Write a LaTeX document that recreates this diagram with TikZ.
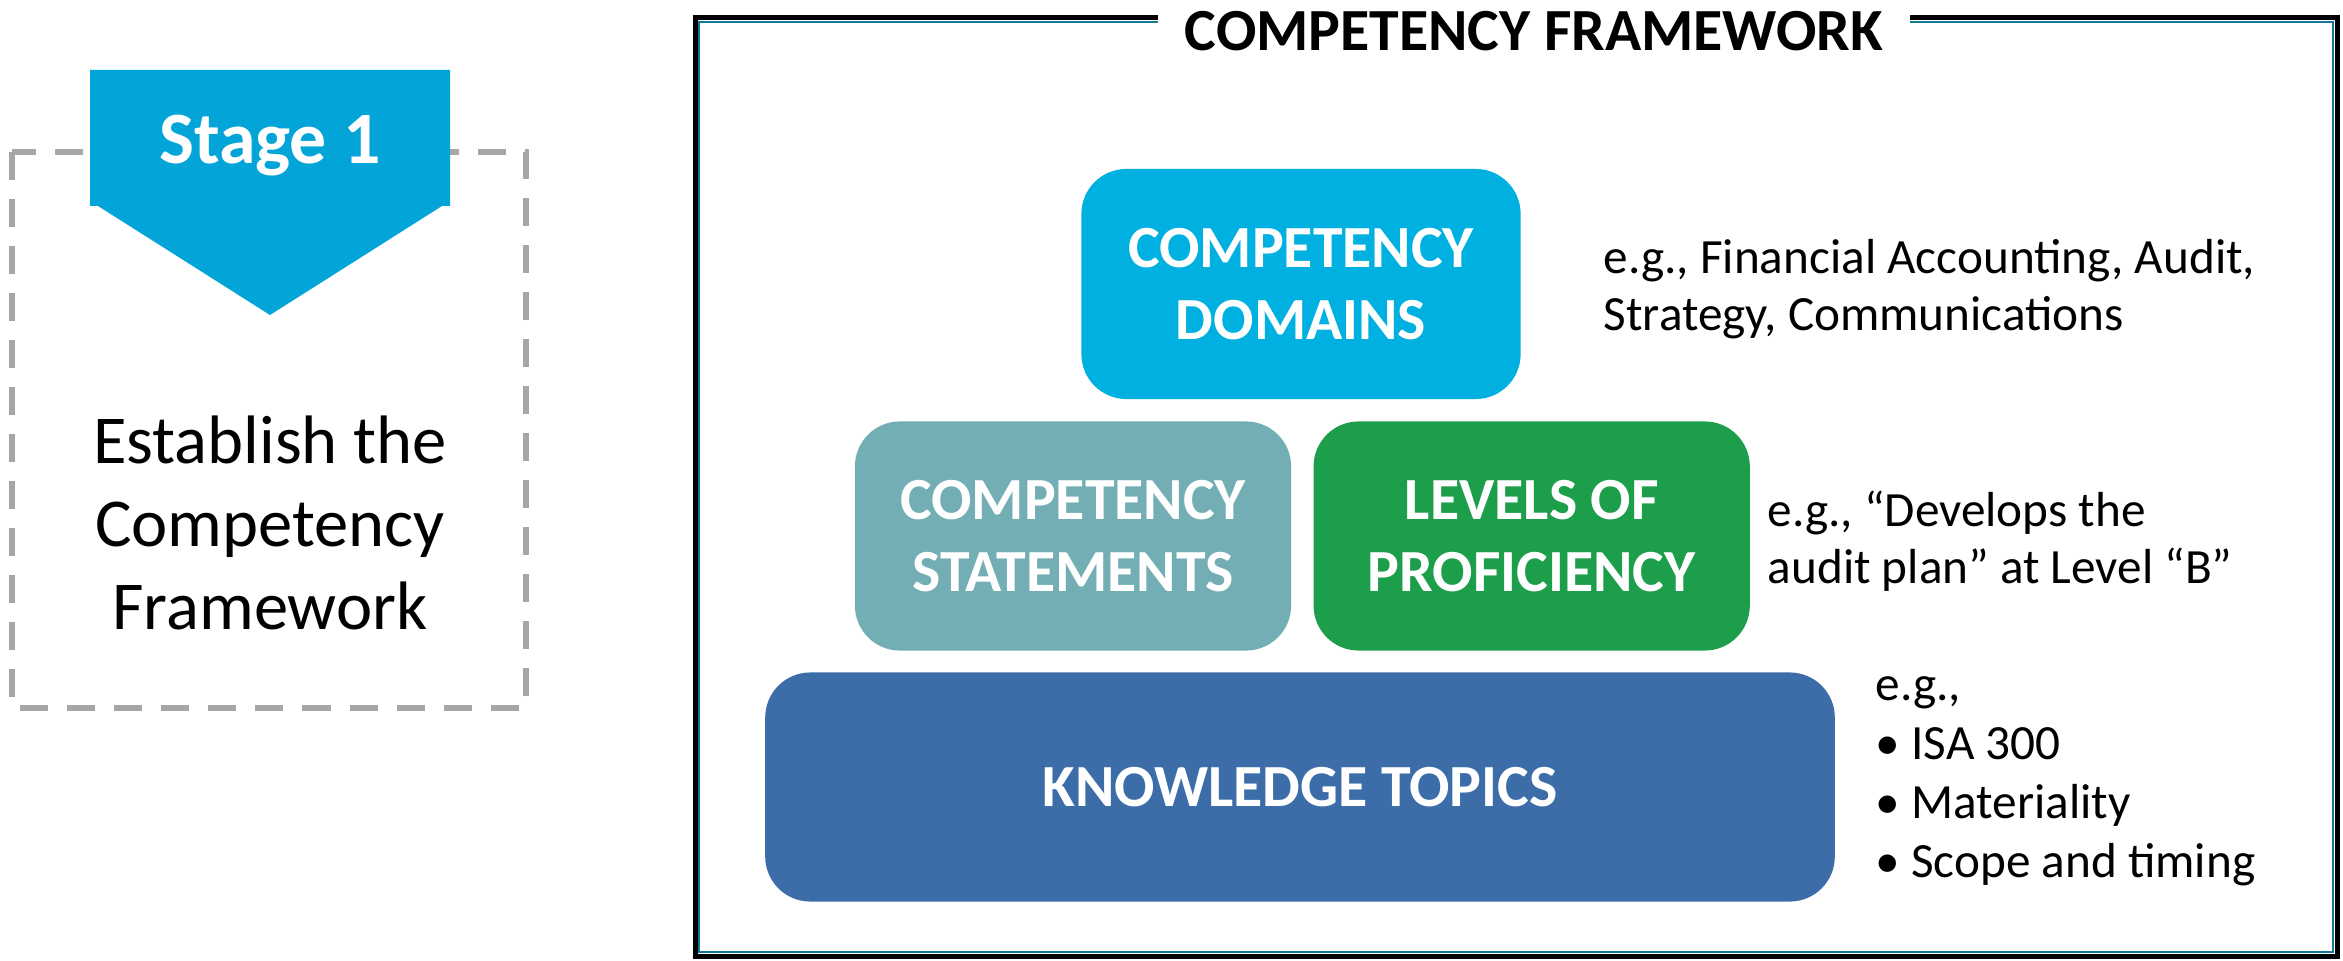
\documentclass[tikz,border=0pt]{standalone}
\usepackage{fontspec}
\setmainfont{Carlito}
\usepackage{xcolor}
\usetikzlibrary{positioning}
\definecolor{stageblue}{RGB}{3,165,217}
\definecolor{domainblue}{RGB}{0,176,224}
\definecolor{statementteal}{RGB}{115,174,181}
\definecolor{levelgreen}{RGB}{29,158,74}
\definecolor{topicblue}{RGB}{61,109,168}
\definecolor{frameteal}{RGB}{20,120,150}
\definecolor{dashgray}{RGB}{166,166,166}

\begin{document}
\begin{tikzpicture}[x=0.01cm,y=-0.01cm,
		block/.style={rounded corners=0.45cm,text=white,inner sep=0pt,align=center,
			font=\fontsize{17}{20.5}\selectfont\bfseries},
		note/.style={anchor=north west,align=left,inner sep=0pt,
			font=\fontsize{14}{16.2}\selectfont}]
		\useasboundingbox (0,0) rectangle (2343,961);
		
		% stage 1
		\draw[dashgray,line width=0.055cm,dash pattern=on 0.28cm off 0.19cm] (12,152) rectangle (526,708);
		\fill[stageblue] (90,70) -- (450,70) -- (450,206) -- (442,206) -- (270,315) -- (98,206) -- (90,206) -- cycle;
		\node[text=white,font=\fontsize{21}{25}\selectfont\bfseries] (stage) at (270,146) {Stage 1};
		\node[align=center,font=\fontsize{19.5}{23.6}\selectfont] (task) at (270,523) {Establish the\\Competency\\Framework};
		
		% framework
		\draw[line width=0.05cm] (1158,18) -- (695,18) -- (695,956) -- (2337,956) -- (2337,18) -- (1910,18);
		\draw[frameteal,line width=0.02cm] (1158,22) -- (699,22) -- (699,952) -- (2333,952) -- (2333,22) -- (1910,22);
		\node[font=\fontsize{17}{20}\selectfont\bfseries] (title) at (1534,31) {COMPETENCY FRAMEWORK};
		
		\node[block,fill=domainblue,minimum width=4.39cm,minimum height=2.30cm] (domains) at (1301,284) {COMPETENCY\\DOMAINS};
		\node[block,fill=statementteal,minimum width=4.36cm,minimum height=2.29cm] (statements) at (1073,536) {COMPETENCY\\STATEMENTS};
		\node[block,fill=levelgreen,minimum width=4.36cm,minimum height=2.29cm,right=0.21cm of statements] (levels) {LEVELS OF\\PROFICIENCY};
		\node[block,fill=topicblue,minimum width=10.69cm,minimum height=2.29cm] (topics) at (1300,787) {KNOWLEDGE TOPICS};
		
		\node[note] (domainsnote) at (1603,239) {e.g., Financial Accounting, Audit,\\Strategy, Communications};
		\node[note] (levelsnote) at (1767,490) {e.g., “Develops the\\audit plan” at Level “B”};
		\node[note,font=\fontsize{14}{16.8}\selectfont] (topicsnote) at (1875,676) {e.g.,\\• ISA 300\\• Materiality\\• Scope and timing};
	\end{tikzpicture}
\end{document}
